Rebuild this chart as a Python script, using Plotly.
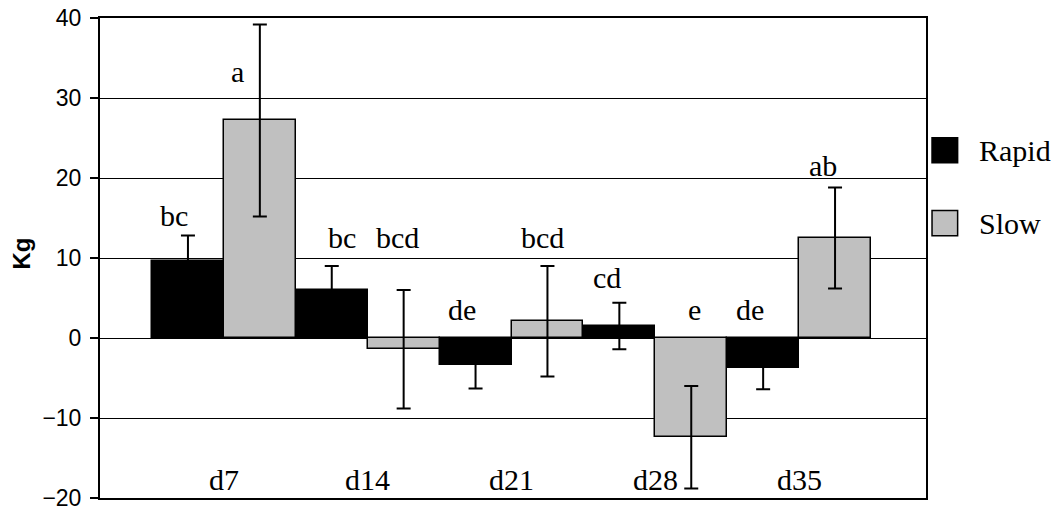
import plotly.graph_objects as go

categories = ["d7", "d14", "d21", "d28", "d35"]
rapid = [9.6, 6.0, -3.4, 1.5, -3.7]
rapid_err = [3.2, 3.0, 2.9, 2.9, 2.7]
slow = [27.2, -1.4, 2.1, -12.4, 12.5]
slow_err = [12.0, 7.4, 6.9, 6.4, 6.3]
letters_rapid = ["bc", "bc", "de", "cd", "de"]
letters_slow = ["a", "bcd", "bcd", "e", "ab"]
series_names = ["Rapid", "Slow"]
y_ticks = [-20, -10, 0, 10, 20, 30, 40]

# annotation placement (layout, not data): baseline value and px shift
lab_y_rapid = [14.0, 11.2, 2.2, 6.25, 2.2]
lab_y_slow = [32.0, 11.2, 11.2, 2.2, 20.3]
lab_dx_rapid = [-14, 10, -14, -12, -13]
lab_dx_slow = [-22, -6, -5, 3, -12]

SERIF = "Liberation Serif, Times New Roman, serif"
SANS = "Liberation Sans, Arial, sans-serif"
RAPID_C = "#000000"
SLOW_C = "#c0c0c0"

xs = list(range(len(categories)))

fig = go.Figure()
fig.add_trace(go.Bar(
    x=xs, y=rapid, name=series_names[0],
    marker=dict(color=RAPID_C, line=dict(color="black", width=1.5)),
    error_y=dict(type="data", array=rapid_err, visible=True,
                 color="black", thickness=2, width=7),
    showlegend=False,
))
fig.add_trace(go.Bar(
    x=xs, y=slow, name=series_names[1],
    marker=dict(color=SLOW_C, line=dict(color="black", width=1.5)),
    error_y=dict(type="data", array=slow_err, visible=True,
                 color="black", thickness=2, width=7),
    showlegend=False,
))

annotations = []
for i, c in enumerate(categories):
    annotations.append(dict(x=i, y=-19.0, xref="x", yref="y", text=c,
                            showarrow=False, xanchor="center", yanchor="bottom",
                            yshift=-8, font=dict(family=SERIF, size=30, color="black")))
    annotations.append(dict(x=i - 0.25, y=lab_y_rapid[i], xref="x", yref="y",
                            text=letters_rapid[i], showarrow=False,
                            xanchor="center", yanchor="bottom", yshift=-8,
                            xshift=lab_dx_rapid[i],
                            font=dict(family=SERIF, size=30, color="black")))
    annotations.append(dict(x=i + 0.25, y=lab_y_slow[i], xref="x", yref="y",
                            text=letters_slow[i], showarrow=False,
                            xanchor="center", yanchor="bottom", yshift=-8,
                            xshift=lab_dx_slow[i],
                            font=dict(family=SERIF, size=30, color="black")))

# y-axis title
annotations.append(dict(x=-0.0945, y=0.509, xref="paper", yref="paper", text="<b>Kg</b>",
                        textangle=-90, showarrow=False, xanchor="center", yanchor="middle",
                        font=dict(family=SANS, size=24, color="black")))

# legend (drawn manually to get large swatches)
shapes = []
legend_rows = [(0.7506, 0.6985, RAPID_C), (0.599, 0.5465, SLOW_C)]
for (top, bot, col), name in zip(legend_rows, series_names):
    shapes.append(dict(type="rect", xref="paper", yref="paper",
                       x0=1.0073, x1=1.0383, y0=bot, y1=top,
                       fillcolor=col, line=dict(color="black", width=1.5)))
    annotations.append(dict(x=1.0618, y=(top + bot) / 2, xref="paper", yref="paper",
                            text=name, showarrow=False, xanchor="left", yanchor="middle",
                            font=dict(family=SERIF, size=30, color="black")))

fig.update_layout(
    width=1058, height=513,
    margin=dict(l=100, r=132, t=18, b=15, pad=0),
    paper_bgcolor="white", plot_bgcolor="white",
    barmode="group", bargap=0, bargroupgap=0,
    showlegend=False,
    annotations=annotations, shapes=shapes,
    xaxis=dict(range=[-0.8616, 4.8825], showticklabels=False, ticks="",
               automargin=False,
               showgrid=False, zeroline=False, showline=True, mirror=True,
               linecolor="black", linewidth=2),
    yaxis=dict(range=[-20, 40], tickvals=y_ticks, ticks="outside", ticklen=8,
               automargin=False, ticklabelstandoff=4,
               tickwidth=1.5, tickcolor="black",
               tickfont=dict(family=SANS, size=23, color="black"),
               showgrid=True, gridcolor="black", gridwidth=1,
               zeroline=True, zerolinecolor="black", zerolinewidth=1,
               showline=True, mirror=True, linecolor="black", linewidth=2),
)

fig.write_html("out.html")
